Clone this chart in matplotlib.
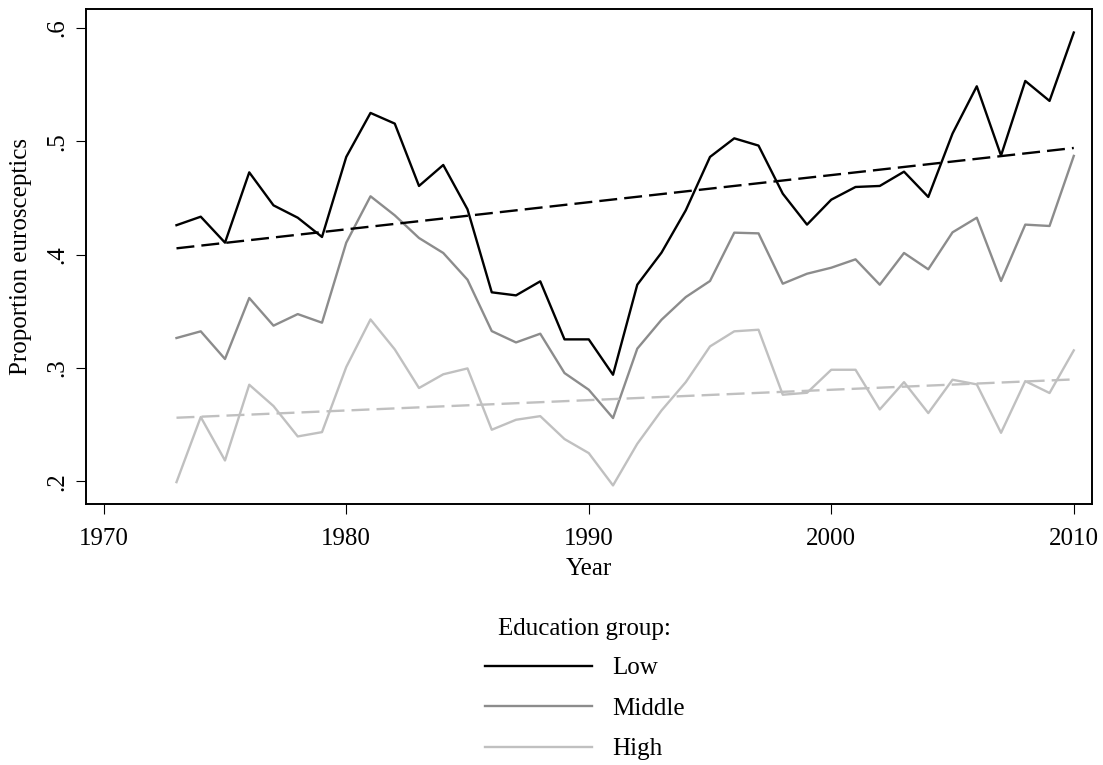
import matplotlib
matplotlib.use("Agg")
import matplotlib.pyplot as plt
from matplotlib.lines import Line2D
from matplotlib.ticker import FuncFormatter

plt.rcParams["font.family"] = ["Liberation Serif", "DejaVu Serif"]
plt.rcParams["font.size"] = 18

years = list(range(1973, 2011))

low = [0.426, 0.4335, 0.4106, 0.4726, 0.4435, 0.4326, 0.4156, 0.4862, 0.525, 0.5156,
       0.4606, 0.4791, 0.440, 0.3668, 0.3641, 0.3765, 0.3253, 0.3253, 0.2941, 0.3735,
       0.4018, 0.4391, 0.4862, 0.5026, 0.4962, 0.4538, 0.4265, 0.4485, 0.4597, 0.4606,
       0.4732, 0.4509, 0.5068, 0.5485, 0.4874, 0.5532, 0.5356, 0.5959]

middle = [0.3265, 0.3324, 0.308, 0.3618, 0.3374, 0.3476, 0.340, 0.4106, 0.4515, 0.4347,
          0.4147, 0.4015, 0.3779, 0.3326, 0.3226, 0.3303, 0.2956, 0.2809, 0.2559, 0.3171,
          0.3426, 0.3626, 0.3768, 0.4194, 0.4188, 0.3744, 0.3832, 0.3885, 0.3959, 0.3735,
          0.4015, 0.3871, 0.4197, 0.4326, 0.3768, 0.4265, 0.4253, 0.4871]

high = [0.1994, 0.2568, 0.2185, 0.2853, 0.2665, 0.2397, 0.2435, 0.3009, 0.3429, 0.3165,
        0.2824, 0.2945, 0.2997, 0.2456, 0.2544, 0.2576, 0.2374, 0.225, 0.1965, 0.2332,
        0.2626, 0.2876, 0.3191, 0.3324, 0.3338, 0.2765, 0.2782, 0.2985, 0.2985, 0.2635,
        0.2876, 0.2603, 0.2897, 0.2856, 0.2429, 0.2885, 0.278, 0.3156]

# linear trend end points (1973, 2010)
trend_years = [1973, 2010]
trend_low = [0.4056, 0.4941]
trend_high = [0.2562, 0.290]

c_low = "#000000"
c_mid = "#8c8c8c"
c_high = "#c0c0c0"
lw = 1.7

fig = plt.figure(figsize=(11.03, 7.65), dpi=100)
ax = fig.add_axes([0.078, 0.341, 0.912, 0.647])

ax.plot(years, low, color=c_low, lw=lw)
ax.plot(years, middle, color=c_mid, lw=lw)
ax.plot(years, high, color=c_high, lw=lw)
ax.plot(trend_years, trend_low, color=c_low, lw=lw, dashes=(7.6, 3))
ax.plot(trend_years, trend_high, color=c_high, lw=lw, dashes=(7.6, 3))

ax.set_xlim(1969.27, 2010.75)
ax.set_ylim(0.180, 0.6165)
ax.set_xticks([1970, 1980, 1990, 2000, 2010])
ax.set_yticks([0.2, 0.3, 0.4, 0.5, 0.6])
ax.yaxis.set_major_formatter(FuncFormatter(lambda v, p: f"{v:.1f}".lstrip("0")))
for lab in ax.get_yticklabels():
    lab.set_rotation(90)
    lab.set_va("center")
ax.tick_params(direction="out", length=7, width=0.8, pad=6)
ax.tick_params(axis="x", pad=10)
for s in ax.spines.values():
    s.set_linewidth(1.4)

ax.set_xlabel("Year", labelpad=6)
ax.set_ylabel("Proportion eurosceptics", labelpad=10)

handles = [Line2D([], [], color=c, lw=lw) for c in (c_low, c_mid, c_high)]
leg = fig.legend(handles, ["Low", "Middle", "High"], loc="upper center",
                 bbox_to_anchor=(0.53, 0.205), frameon=False,
                 title="Education group:", handlelength=4.3, handletextpad=0.8,
                 labelspacing=0.72, borderaxespad=0)
leg.get_title().set_fontsize(18)
leg._legend_box.sep = 12

fig.savefig("out.png", dpi=100)
